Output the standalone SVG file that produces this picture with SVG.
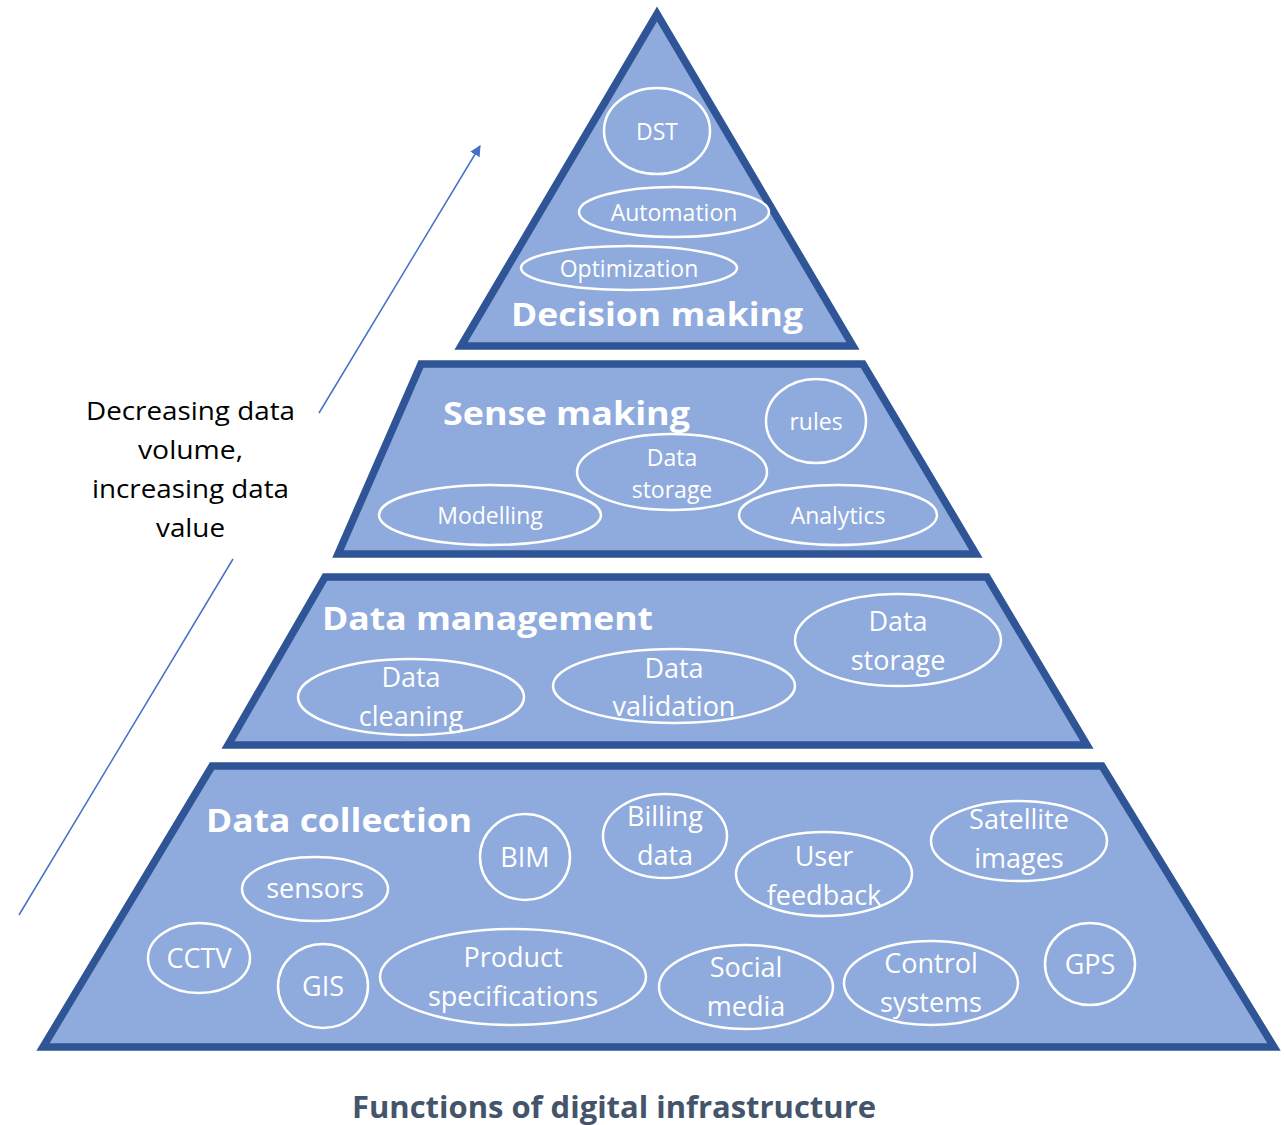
<svg xmlns="http://www.w3.org/2000/svg" width="1284" height="1125" viewBox="0 0 1284 1125">
  <defs>
    <marker id="arrowHead" viewBox="0 0 10 10" refX="9" refY="5" markerWidth="11" markerHeight="11" markerUnits="userSpaceOnUse" orient="auto">
      <path d="M0,0 L10,5 L0,10 z" fill="#4472C4"/>
    </marker>
    <style>
      .tier { fill: #8FAADC; stroke: #2F5597; stroke-width: 7.5; stroke-linejoin: miter; }
      .bubble { fill: none; stroke: #FFFFFF; stroke-width: 2.5; }
      .lbl { font-family: "Open Sans", "Liberation Sans", sans-serif; fill: #FFFFFF; text-anchor: middle; }
      .s22 { font-size: 23px; }
      .s26 { font-size: 27px; }
      .head { font-family: "Open Sans", "Liberation Sans", sans-serif; font-weight: bold; fill: #FFFFFF; font-size: 32px; }
      .side { font-family: "Open Sans", "Liberation Sans", sans-serif; font-size: 26px; fill: #000000; }
      .title { font-family: "Open Sans", "Liberation Sans", sans-serif; font-weight: bold; font-size: 30px; fill: #44546A; }
      .trend { stroke: #4472C4; stroke-width: 1.5; fill: none; }
    </style>
  </defs>
  <rect width="1284" height="1125" fill="#FFFFFF"/>

  <!-- trend arrow beside the pyramid -->
  <g id="connectors">
    <line class="trend" x1="19" y1="915" x2="233" y2="559"/>
    <line class="trend" x1="319" y1="413" x2="480" y2="146" marker-end="url(#arrowHead)"/>
  </g>

  <g id="trend-label">
    <text class="side" x="86" y="420" textLength="209" lengthAdjust="spacingAndGlyphs">Decreasing data</text>
    <text class="side" x="138" y="459" textLength="105" lengthAdjust="spacingAndGlyphs">volume,</text>
    <text class="side" x="92" y="498" textLength="197" lengthAdjust="spacingAndGlyphs">increasing data</text>
    <text class="side" x="156" y="537" textLength="69" lengthAdjust="spacingAndGlyphs">value</text>
  </g>

  <!-- top tier -->
  <g id="decision-making">
    <polygon class="tier" points="657,14 853,346 461,346"/>
    <text class="head" x="511" y="326" textLength="292" lengthAdjust="spacingAndGlyphs">Decision making</text>
  </g>
  <g id="dst">
    <ellipse class="bubble" cx="657" cy="131" rx="53" ry="43"/>
    <text class="lbl s22" x="657" y="140">DST</text>
  </g>
  <g id="automation">
    <ellipse class="bubble" cx="674" cy="212" rx="95" ry="25"/>
    <text class="lbl s22" x="674" y="221">Automation</text>
  </g>
  <g id="optimization">
    <ellipse class="bubble" cx="629" cy="268" rx="108" ry="22"/>
    <text class="lbl s22" x="629" y="277">Optimization</text>
  </g>

  <!-- second tier -->
  <g id="sense-making">
    <polygon class="tier" points="421,364 863,364 976,554 338,554"/>
    <text class="head" x="443" y="425" textLength="247" lengthAdjust="spacingAndGlyphs">Sense making</text>
  </g>
  <g id="rules">
    <ellipse class="bubble" cx="816" cy="421" rx="50" ry="42"/>
    <text class="lbl s22" x="816" y="430">rules</text>
  </g>
  <g id="modelling">
    <ellipse class="bubble" cx="490" cy="515" rx="111" ry="30"/>
    <text class="lbl s22" x="490" y="524">Modelling</text>
  </g>
  <g id="analytics">
    <ellipse class="bubble" cx="838" cy="515" rx="99" ry="30"/>
    <text class="lbl s22" x="838" y="524">Analytics</text>
  </g>
  <g id="sense-data-storage">
    <ellipse class="bubble" cx="672" cy="472" rx="95" ry="38"/>
    <text class="lbl s22" x="672" y="466">Data</text>
    <text class="lbl s22" x="672" y="498">storage</text>
  </g>

  <!-- third tier -->
  <g id="data-management">
    <polygon class="tier" points="325,577 987,577 1087,745 228,745"/>
    <text class="head" x="322" y="630" textLength="331" lengthAdjust="spacingAndGlyphs">Data management</text>
  </g>
  <g id="mgmt-data-storage">
    <ellipse class="bubble" cx="898" cy="640" rx="103" ry="46"/>
    <text class="lbl s26" x="898" y="631">Data</text>
    <text class="lbl s26" x="898" y="670">storage</text>
  </g>
  <g id="data-cleaning">
    <ellipse class="bubble" cx="411" cy="697" rx="113" ry="38"/>
    <text class="lbl s26" x="411" y="687">Data</text>
    <text class="lbl s26" x="411" y="726">cleaning</text>
  </g>
  <g id="data-validation">
    <ellipse class="bubble" cx="674" cy="686" rx="121" ry="37"/>
    <text class="lbl s26" x="674" y="678">Data</text>
    <text class="lbl s26" x="674" y="716">validation</text>
  </g>

  <!-- base tier -->
  <g id="data-collection">
    <polygon class="tier" points="212,766 1102,766 1274,1047 43,1047"/>
    <text class="head" x="206" y="832" textLength="266" lengthAdjust="spacingAndGlyphs">Data collection</text>
  </g>
  <g id="bim">
    <ellipse class="bubble" cx="525" cy="857" rx="45" ry="43"/>
    <text class="lbl s26" x="525" y="867">BIM</text>
  </g>
  <g id="billing-data">
    <ellipse class="bubble" cx="665" cy="836" rx="62" ry="42"/>
    <text class="lbl s26" x="665" y="826">Billing</text>
    <text class="lbl s26" x="665" y="865">data</text>
  </g>
  <g id="user-feedback">
    <ellipse class="bubble" cx="824" cy="874" rx="88" ry="42"/>
    <text class="lbl s26" x="824" y="866">User</text>
    <text class="lbl s26" x="824" y="905">feedback</text>
  </g>
  <g id="satellite-images">
    <ellipse class="bubble" cx="1019" cy="841" rx="88" ry="40"/>
    <text class="lbl s26" x="1019" y="829">Satellite</text>
    <text class="lbl s26" x="1019" y="868">images</text>
  </g>
  <g id="sensors">
    <ellipse class="bubble" cx="315" cy="889" rx="73" ry="32"/>
    <text class="lbl s26" x="315" y="898">sensors</text>
  </g>
  <g id="cctv">
    <ellipse class="bubble" cx="199" cy="958" rx="51" ry="35"/>
    <text class="lbl s26" x="199" y="968">CCTV</text>
  </g>
  <g id="gis">
    <ellipse class="bubble" cx="323" cy="986" rx="45" ry="42"/>
    <text class="lbl s26" x="323" y="996">GIS</text>
  </g>
  <g id="product-specifications">
    <ellipse class="bubble" cx="513" cy="977" rx="133" ry="48"/>
    <text class="lbl s26" x="513" y="967">Product</text>
    <text class="lbl s26" x="513" y="1006">specifications</text>
  </g>
  <g id="social-media">
    <ellipse class="bubble" cx="746" cy="987" rx="87" ry="42"/>
    <text class="lbl s26" x="746" y="977">Social</text>
    <text class="lbl s26" x="746" y="1016">media</text>
  </g>
  <g id="control-systems">
    <ellipse class="bubble" cx="931" cy="983" rx="87" ry="42"/>
    <text class="lbl s26" x="931" y="973">Control</text>
    <text class="lbl s26" x="931" y="1012">systems</text>
  </g>
  <g id="gps">
    <ellipse class="bubble" cx="1090" cy="964" rx="45" ry="41"/>
    <text class="lbl s26" x="1090" y="974">GPS</text>
  </g>

  <g id="caption">
    <text class="title" x="352" y="1118" textLength="524" lengthAdjust="spacingAndGlyphs">Functions of digital infrastructure</text>
  </g>
</svg>
